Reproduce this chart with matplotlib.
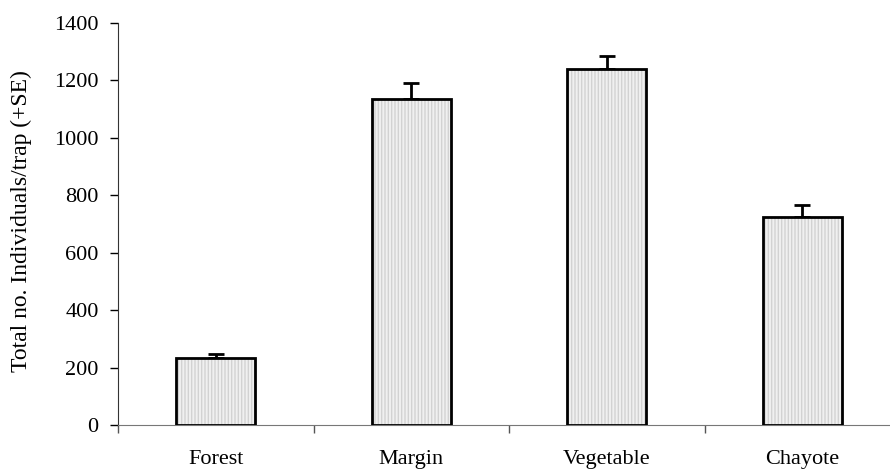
import numpy as np
import matplotlib.pyplot as plt
from matplotlib.ticker import FixedLocator

# habitat categories and trap catches
habitats = ['Forest', 'Margin', 'Vegetable', 'Chayote']
mean_catch = [232, 1135, 1241, 724]
se_catch = [14, 56, 44, 41]

plt.rcParams['font.family'] = ['Liberation Serif', 'DejaVu Serif']

fig = plt.figure(figsize=(8.9, 4.75), dpi=100)
# x axis runs slightly past the right edge of the figure
ax = fig.add_axes([0.1326, 0.105, 0.8787, 0.8466])

x = np.arange(len(habitats))
width = 0.405

# dotted grey fill, then black outline on top
ax.bar(x, mean_catch, width, color='#f0f0f0', edgecolor='#d2d2d2',
       hatch='|||||', linewidth=0, zorder=2)
ax.bar(x, mean_catch, width, fill=False, edgecolor='black',
       linewidth=2.0, zorder=3)
ax.errorbar(x, mean_catch, yerr=[np.zeros(len(se_catch)), se_catch],
            fmt='none', ecolor='black', elinewidth=2.0, capsize=5.8,
            capthick=2.0, zorder=1)

ax.set_xlim(-0.5, len(habitats) - 0.5)
ax.set_ylim(0, 1400)
ax.set_yticks(np.arange(0, 1401, 200))
ax.set_xticks(x)
ax.set_xticklabels(habitats)
ax.xaxis.set_minor_locator(FixedLocator(np.arange(-0.5, len(habitats), 1.0)))
ax.tick_params(axis='x', which='major', length=0, pad=18, labelsize=16)
ax.tick_params(axis='x', which='minor', length=5.5, width=1, color='#555555')
ax.tick_params(axis='y', length=6, width=1, labelsize=16, pad=8)
ax.set_ylabel('Total no. Individuals/trap (+SE)', fontsize=17)
ax.yaxis.set_label_coords(-0.110, 0.507)

ax.spines['top'].set_visible(False)
ax.spines['right'].set_visible(False)
ax.spines['bottom'].set_color('#777777')
ax.spines['left'].set_color('#333333')

fig.savefig('out.png', dpi=100)
